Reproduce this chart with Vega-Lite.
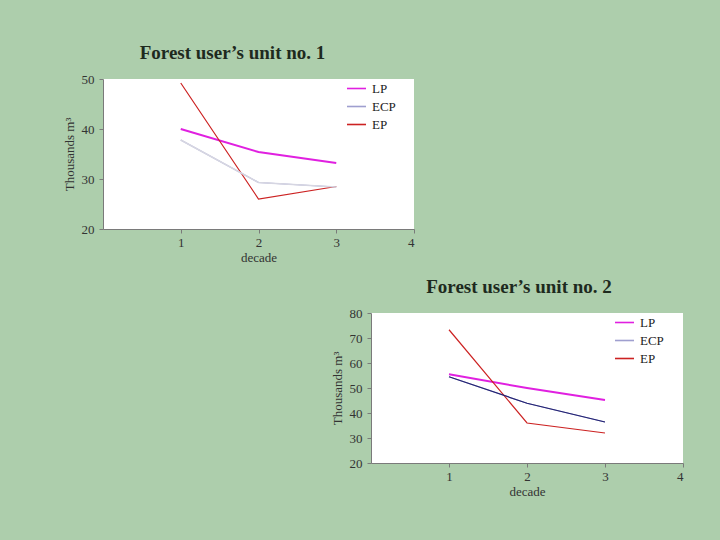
{
  "$schema": "https://vega.github.io/schema/vega-lite/v6.json",
  "background": "#adceac",
  "padding": {"left": 63, "top": 44, "right": 37, "bottom": 42},
  "datasets": {
    "unit1": [
      {"decade": 1, "series": "LP", "value": 40.0},
      {"decade": 2, "series": "LP", "value": 35.4},
      {"decade": 3, "series": "LP", "value": 33.2},
      {"decade": 1, "series": "ECP", "value": 37.8},
      {"decade": 2, "series": "ECP", "value": 29.3},
      {"decade": 3, "series": "ECP", "value": 28.4},
      {"decade": 1, "series": "EP", "value": 49.2},
      {"decade": 2, "series": "EP", "value": 26.0},
      {"decade": 3, "series": "EP", "value": 28.5}
    ],
    "unit2": [
      {"decade": 1, "series": "LP", "value": 55.5},
      {"decade": 2, "series": "LP", "value": 50.0},
      {"decade": 3, "series": "LP", "value": 45.2},
      {"decade": 1, "series": "ECP", "value": 54.5},
      {"decade": 2, "series": "ECP", "value": 43.9},
      {"decade": 3, "series": "ECP", "value": 36.4},
      {"decade": 1, "series": "EP", "value": 73.3},
      {"decade": 2, "series": "EP", "value": 36.0},
      {"decade": 3, "series": "EP", "value": 32.0}
    ]
  },
  "config": {
    "font": "Liberation Serif",
    "axis": {
      "labelFont": "Liberation Serif", "labelFontSize": 13, "labelColor": "#333333",
      "titleFont": "Liberation Serif", "titleFontSize": 13, "titleFontWeight": "normal", "titleColor": "#333333",
      "domainColor": "#7a7a7a", "tickColor": "#7a7a7a", "tickSize": 4, "grid": false
    },
    "legend": {
      "labelFont": "Liberation Serif", "labelFontSize": 13, "labelColor": "#222222",
      "symbolType": "stroke", "symbolSize": 360, "symbolStrokeWidth": 1.6, "rowPadding": 0, "labelOffset": 5
    },
    "title": {"font": "Liberation Serif", "fontSize": 19, "fontWeight": "bold", "color": "#1e2a1e", "letterSpacing": 2}
  },
  "resolve": {"scale": {"color": "independent", "y": "independent"}, "legend": {"color": "independent"}},
  "spacing": 14,
  "vconcat": [
    {
      "title": {"text": "Forest user’s unit no. 1", "dx": -26, "offset": 10},
      "width": 311, "height": 150,
      "view": {"fill": "white", "stroke": null},
      "data": {"name": "unit1"},
      "encoding": {
        "x": {"field": "decade", "type": "quantitative", "scale": {"domain": [0, 4]},
              "axis": {"values": [1, 2, 3, 4], "title": "decade", "titlePadding": 2, "labelPadding": 3}},
        "y": {"field": "value", "type": "quantitative", "scale": {"domain": [20, 50]},
              "axis": {"values": [20, 30, 40, 50], "title": "Thousands   m³", "titlePadding": 5, "labelPadding": 5}}
      },
      "layer": [
        {
          "mark": {"type": "line"},
          "encoding": {
            "color": {"field": "series", "type": "nominal",
                      "scale": {"domain": ["LP", "ECP", "EP"], "range": ["#e020e0", "#9f9fcf", "#cc2222"]},
                      "legend": {"title": null, "orient": "none", "legendX": 243, "legendY": -1}},
            "strokeWidth": {"condition": {"test": "datum.series === 'LP'", "value": 2}, "value": 1.2}
          }
        },
        {
          "transform": [{"filter": "datum.series === 'ECP'"}],
          "mark": {"type": "line", "color": "#d6d6e2", "strokeWidth": 1.6},
          "encoding": {}
        }
      ]
    },
    {
      "spacing": 0,
      "resolve": {"scale": {"color": "independent"}, "legend": {"color": "independent"}},
      "hconcat": [
        {
          "width": 228, "height": 10,
          "view": {"stroke": null},
          "data": {"name": "unit2"},
          "mark": {"type": "point", "opacity": 0},
          "encoding": {}
        },
        {
          "title": {"text": "Forest user’s unit no. 2", "dx": -8, "offset": 10},
          "width": 312, "height": 150,
          "view": {"fill": "white", "stroke": null},
          "data": {"name": "unit2"},
          "encoding": {
            "x": {"field": "decade", "type": "quantitative", "scale": {"domain": [0, 4]},
                  "axis": {"values": [1, 2, 3, 4], "title": "decade", "titlePadding": 2, "labelPadding": 3}},
            "y": {"field": "value", "type": "quantitative", "scale": {"domain": [20, 80]},
                  "axis": {"values": [20, 30, 40, 50, 60, 70, 80], "title": "Thousands   m³", "titlePadding": 5, "labelPadding": 5}}
          },
          "layer": [
            {
              "mark": {"type": "line"},
              "encoding": {
                "color": {"field": "series", "type": "nominal",
                          "scale": {"domain": ["LP", "ECP", "EP"], "range": ["#e020e0", "#9f9fcf", "#cc2222"]},
                          "legend": {"title": null, "orient": "none", "legendX": 243, "legendY": -1}},
                "strokeWidth": {"condition": {"test": "datum.series === 'LP'", "value": 2}, "value": 1.2}
              }
            },
            {
              "transform": [{"filter": "datum.series === 'ECP'"}],
              "mark": {"type": "line", "color": "#222272", "strokeWidth": 1.2},
              "encoding": {}
            }
          ]
        }
      ]
    }
  ]
}
